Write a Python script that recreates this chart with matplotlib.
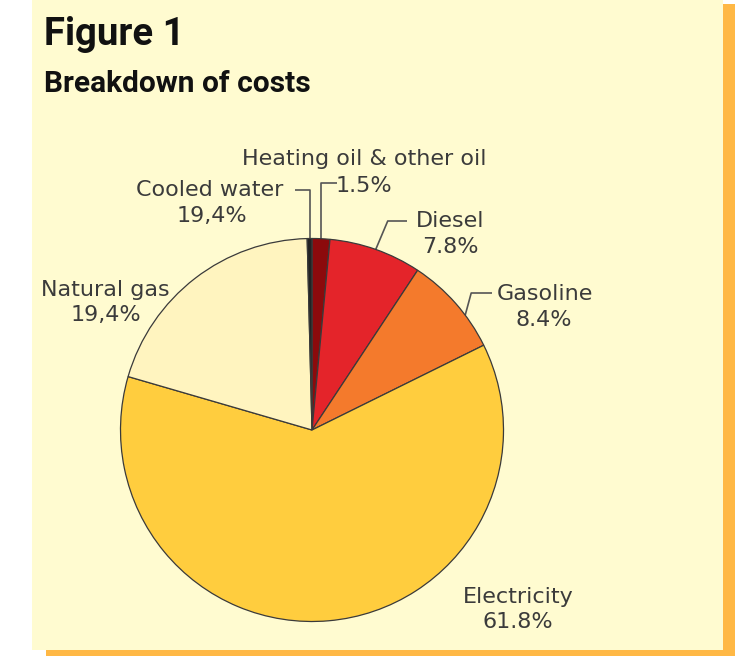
import numpy as np
import matplotlib
matplotlib.use("Agg")
import matplotlib.pyplot as plt
from matplotlib.patches import Rectangle

# ---- data ----
categories = ["Heating oil & other oil", "Diesel", "Gasoline", "Electricity",
              "Natural gas", "Cooled water"]
values = [1.5, 7.8, 8.4, 61.8, 20.1, 0.4]
value_labels = ["1.5%", "7.8%", "8.4%", "61.8%", "19,4%", "19,4%"]
colors = ["#8C0A0C", "#E4242A", "#F47A2C", "#FFCD3E", "#FFF4BF", "#222222"]

title = "Figure 1"
subtitle = "Breakdown of costs"

W, H = 735, 656
fig = plt.figure(figsize=(W / 100, H / 100), dpi=100)
fig.patch.set_facecolor("white")

# overlay axes in pixel coordinates (background panel, texts, leaders)
ov = fig.add_axes([0, 0, 1, 1], zorder=0)
ov.set_xlim(0, W)
ov.set_ylim(H, 0)
ov.axis("off")
ov.add_patch(Rectangle((46, 4), W - 46, H, facecolor="#FFB845", edgecolor="none", zorder=0))
ov.add_patch(Rectangle((32, 0), 723 - 32, 650, facecolor="#FFFBD0", edgecolor="none", zorder=1))

# pie axes
cx, cy, r = 312, 430, 191.5
ax = fig.add_axes([(cx - r) / W, (H - cy - r) / H, 2 * r / W, 2 * r / H], zorder=1)
ax.patch.set_alpha(0)
wedges, _ = ax.pie(values, colors=colors, startangle=90, counterclock=False,
                   radius=1.0,
                   wedgeprops=dict(edgecolor="#3a3a3a", linewidth=0.9))
ax.set_xlim(-1, 1)
ax.set_ylim(-1, 1)
ax.axis("off")


def edge_px(w, frac=0.5):
    ang = np.deg2rad(w.theta1 + (w.theta2 - w.theta1) * frac)
    disp = ax.transData.transform((np.cos(ang), np.sin(ang)))
    return ov.transData.inverted().transform(disp)


lc = dict(color="#555555", lw=1.2, zorder=3, solid_capstyle="butt")
tc = dict(color="#3b3b3b", fontsize=16, family="DejaVu Sans", ha="center", va="center", zorder=4)

# Heating oil leader: up then right
x0, y0 = edge_px(wedges[0])
ov.plot([x0, x0, 337], [y0, 183, 183], **lc)
# Cooled water leader: up then left
x0, y0 = edge_px(wedges[5])
ov.plot([x0, x0, 295], [y0, 190, 190], **lc)
# Diesel leader
x0, y0 = edge_px(wedges[1])
ov.plot([x0, x0 + 12, 407], [y0, 221, 221], **lc)
# Gasoline leader
x0, y0 = edge_px(wedges[2], 0.35)
ov.plot([x0, x0 + 6, 492], [y0, 293, 293], **lc)

# labels
ov.text(364, 159, categories[0], **tc)
ov.text(364, 186, value_labels[0], **tc)
ov.text(210, 190, categories[5], **tc)
ov.text(212, 216, value_labels[5], **tc)
ov.text(450, 221, categories[1], **tc)
ov.text(450, 247, value_labels[1], **tc)
ov.text(545, 294, categories[2], **tc)
ov.text(544, 320, value_labels[2], **tc)
ov.text(105, 290, categories[4], **tc)
ov.text(106, 315, value_labels[4], **tc)
ov.text(518, 597, categories[3], **tc)
ov.text(518, 622, value_labels[3], **tc)

# titles
tf = ["Roboto", "DejaVu Sans"]
ov.text(44, 45, title, family=tf, fontsize=27.5, fontweight="bold", color="#111111",
        ha="left", va="baseline", zorder=4)
ov.text(44, 92, subtitle, family=tf, fontsize=21.5, fontweight="bold", color="#111111",
        ha="left", va="baseline", zorder=4)

fig.savefig("out.png", dpi=100, facecolor=fig.get_facecolor())
